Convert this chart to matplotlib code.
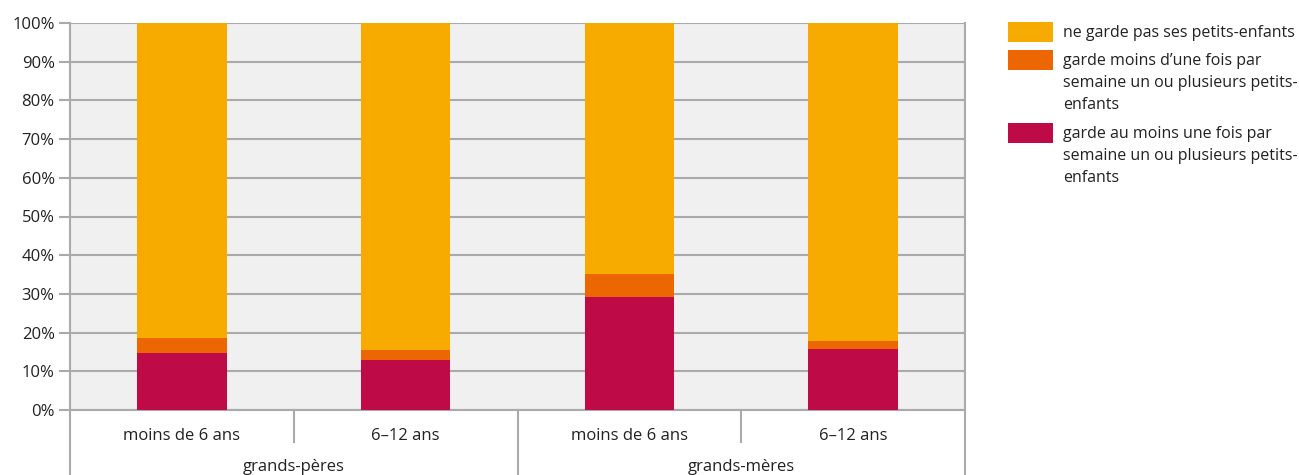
import matplotlib
matplotlib.use("Agg")
import matplotlib.pyplot as plt
from matplotlib.patches import Rectangle
from matplotlib.transforms import blended_transform_factory
import numpy as np

plt.rcParams['font.family'] = ['Open Sans', 'DejaVu Sans']

categories = ["moins de 6 ans", "6–12 ans", "moins de 6 ans", "6–12 ans"]
groups = ["grands-pères", "grands-mères"]
weekly = [14.8, 12.9, 29.3, 15.8]        # garde au moins une fois par semaine
less_weekly = [3.9, 2.6, 5.8, 2.1]       # garde moins d'une fois par semaine
never = [100 - a - b for a, b in zip(weekly, less_weekly)]  # ne garde pas
yticks = [0, 10, 20, 30, 40, 50, 60, 70, 80, 90, 100]
ytick_labels = [f"{v}%" for v in yticks]

labels = [
    "ne garde pas ses petits-enfants",
    "garde moins d’une fois par\nsemaine un ou plusieurs petits-\nenfants",
    "garde au moins une fois par\nsemaine un ou plusieurs petits-\nenfants",
]
colors = ["#F7AA00", "#EC6602", "#BE0A46"]
grid_c = "#AAAAAA"
text_c = "#222222"

fig = plt.figure(figsize=(12.99, 4.75), dpi=100)
ax = fig.add_axes([70 / 1299, 65 / 475, 895 / 1299, 387 / 475])
ax.set_facecolor("#F0F0F0")

x = np.arange(len(categories))
w = 0.4
ax.bar(x, weekly, w, color=colors[2], zorder=3)
ax.bar(x, less_weekly, w, bottom=weekly, color=colors[1], zorder=3)
ax.bar(x, never, w, bottom=np.array(weekly) + np.array(less_weekly), color=colors[0], zorder=3)

ax.set_xlim(-0.5, 3.5)
ax.set_ylim(0, 100)
ax.set_yticks(yticks)
ax.set_yticklabels(ytick_labels, fontsize=12, color=text_c)
ax.yaxis.grid(True, color=grid_c, linewidth=1.5, zorder=1)
ax.set_axisbelow(True)
ax.tick_params(axis='y', length=8, width=1.5, color=grid_c, pad=3)
ax.set_xticks([])
ax.spines["top"].set_visible(False)
for s in ["left", "right", "bottom"]:
    ax.spines[s].set_color(grid_c)
    ax.spines[s].set_linewidth(1.5)

# Two-level category axis below the plot
tr = blended_transform_factory(ax.transData, ax.transAxes)
for xs in [0.5, 2.5]:
    ax.plot([xs, xs], [0, -0.083], color=grid_c, lw=1.5, transform=tr, clip_on=False)
for xs in [-0.5, 1.5, 3.5]:
    ax.plot([xs, xs], [0, -0.17], color=grid_c, lw=1.5, transform=tr, clip_on=False)
for xi, c in zip(x, categories):
    ax.text(xi, -0.066, c, transform=tr, ha='center', va='center', fontsize=12, color=text_c)
for gi, g in enumerate(groups):
    ax.text(2 * gi + 0.5, -0.146, g, transform=tr, ha='center', va='center', fontsize=12, color=text_c)

# Legend
sw_x, sw_w, sw_h = 1008 / 1299, 45 / 1299, 20 / 475
tops = [22, 50, 123]
for top, lab, col in zip(tops, labels, colors):
    y0 = 1 - (top + 20) / 475
    fig.add_artist(Rectangle((sw_x, y0), sw_w, sw_h, transform=fig.transFigure,
                             facecolor=col, edgecolor='none'))
    fig.text(1063 / 1299, 1 - (top + 3) / 475, lab, ha='left', va='top',
             fontsize=11.5, color=text_c, linespacing=1.5)

fig.savefig("out.png", dpi=100)
